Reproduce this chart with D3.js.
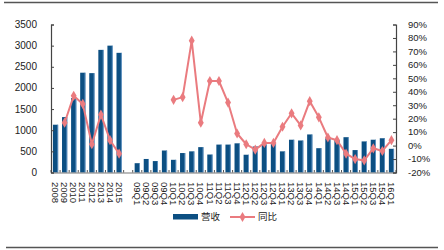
<!DOCTYPE html>
<html>
<head>
<meta charset="utf-8">
<script src="https://cdn.jsdelivr.net/npm/d3@7"></script>
<style>
  html, body { margin: 0; padding: 0; background: #fff; }
  svg { display: block; font-family: "Liberation Sans", Arial, "Noto Sans CJK SC", sans-serif; }
</style>
</head>
<body>
<div id="chart"></div>
<script>
"use strict";

// annual 2008-2015, one empty slot, then quarterly 09Q1-16Q1
const categories = [
  "2008", "2009", "2010", "2011", "2012", "2013", "2014", "2015", "",
  "09Q1", "09Q2", "09Q3", "09Q4",
  "10Q1", "10Q2", "10Q3", "10Q4",
  "11Q1", "11Q2", "11Q3", "11Q4",
  "12Q1", "12Q2", "12Q3", "12Q4",
  "13Q1", "13Q2", "13Q3", "13Q4",
  "14Q1", "14Q2", "14Q3", "14Q4",
  "15Q1", "15Q2", "15Q3", "15Q4",
  "16Q1",
];

const revenue = [
  1130, 1310, 1760, 2360, 2350, 2900, 3000, 2830, null,
  220, 320, 270, 520,
  300, 460, 500, 600,
  425, 660, 660, 690,
  420, 615, 660, 680,
  500, 775, 757, 900,
  575, 810, 770, 835,
  530, 735, 775, 810,
  560,
];

const yoy = [
  null, 17, 37, 31, 1, 23, 4, -6, null,
  null, null, null, null,
  34, 36, 78, 17,
  48, 48, 32, 9,
  1, -3, 2, 2,
  14, 24, 15, 33,
  21, 6, 4, -6,
  -10, -11, -2, -4,
  4,
];

const leftTicks = [0, 500, 1000, 1500, 2000, 2500, 3000, 3500];
const rightTicks = [-20, -10, 0, 10, 20, 30, 40, 50, 60, 70, 80, 90];
const legendLabels = ["营收", "同比"];

(function renderChart() {
  const width = 444;
  const height = 250;
  const barColor = "#0c4f82";
  const barEdge = "#6b9ccc";
  const lineColor = "#ea7b7f";
  const axisColor = "#444";

  const svg = d3.select("#chart")
    .append("svg")
    .attr("width", width)
    .attr("height", height);

  // frame lines top and bottom
  svg.append("line")
    .attr("x1", 4).attr("x2", 438).attr("y1", 2.5).attr("y2", 2.5)
    .attr("stroke", "#555").attr("stroke-width", 1.5);
  svg.append("line")
    .attr("x1", 6).attr("x2", 438).attr("y1", 247.5).attr("y2", 247.5)
    .attr("stroke", "#555").attr("stroke-width", 1.5);

  const x = d3.scaleBand().domain(categories).range([51, 396]).padding(0);
  const yLeft = d3.scaleLinear().domain([0, 3500]).range([172.5, 24.5]);
  const yRight = d3.scaleLinear().domain([-20, 90]).range([172.5, 24.5]);
  const barWidth = 5.2;
  const cx = (d) => x(d) + x.bandwidth() / 2;

  const rows = categories.map((cat, i) => ({ cat, rev: revenue[i], pct: yoy[i] }));

  // bars
  const barRows = rows.filter((row) => row.rev != null);
  svg.selectAll("rect.bar")
    .data(barRows)
    .join("rect")
    .attr("class", "bar")
    .attr("x", (row) => cx(row.cat) - barWidth / 2)
    .attr("y", (row) => yLeft(row.rev))
    .attr("width", barWidth)
    .attr("height", (row) => yLeft(0) - yLeft(row.rev))
    .attr("fill", barColor);

  svg.selectAll("rect.bar-edge")
    .data(barRows)
    .join("rect")
    .attr("class", "bar-edge")
    .attr("x", (row) => cx(row.cat) + barWidth / 2 - 0.8)
    .attr("y", (row) => yLeft(row.rev))
    .attr("width", 0.8)
    .attr("height", (row) => yLeft(0) - yLeft(row.rev))
    .attr("fill", barEdge);

  // x axis
  svg.append("g")
    .attr("transform", `translate(0,${yLeft(0)})`)
    .call(d3.axisBottom(x).tickSize(0).tickFormat(""))
    .call((axis) => axis.select(".domain").attr("stroke", "#777").attr("stroke-width", 1.2));

  svg.selectAll("line.xtick")
    .data(categories.concat(["__end"]))
    .join("line")
    .attr("class", "xtick")
    .attr("x1", (d, i) => 51 + i * x.step())
    .attr("x2", (d, i) => 51 + i * x.step())
    .attr("y1", yLeft(0))
    .attr("y2", yLeft(0) - 2.5)
    .attr("stroke", "#555");

  svg.selectAll("text.xlabel")
    .data(categories.filter((c) => c !== ""))
    .join("text")
    .attr("class", "xlabel")
    .attr("transform", (d) => `translate(${cx(d)},182) rotate(90)`)
    .attr("dy", "0.35em")
    .attr("font-size", 9.5)
    .attr("fill", "#222")
    .text((d) => d);

  // left axis
  svg.append("g")
    .attr("transform", "translate(51,0)")
    .call(d3.axisRight(yLeft).tickValues(leftTicks).tickSize(3).tickFormat(""))
    .call((axis) => axis.selectAll("line").attr("stroke", axisColor))
    .call((axis) => axis.select(".domain").attr("stroke", axisColor).attr("stroke-width", 1.2));

  svg.selectAll("text.yleft")
    .data(leftTicks)
    .join("text")
    .attr("class", "yleft")
    .attr("x", 37)
    .attr("y", (v) => yLeft(v))
    .attr("dy", "0.35em")
    .attr("text-anchor", "end")
    .attr("font-size", 10)
    .attr("fill", "#222")
    .text((v) => v);

  // right axis
  svg.append("g")
    .attr("transform", "translate(396,0)")
    .call(d3.axisLeft(yRight).tickValues(rightTicks).tickSize(3).tickFormat(""))
    .call((axis) => axis.selectAll("line").attr("stroke", axisColor))
    .call((axis) => axis.select(".domain").attr("stroke", axisColor).attr("stroke-width", 1.2));

  svg.selectAll("text.yright")
    .data(rightTicks)
    .join("text")
    .attr("class", "yright")
    .attr("x", 408)
    .attr("y", (v) => yRight(v))
    .attr("dy", "0.35em")
    .attr("font-size", 9.5)
    .attr("fill", "#222")
    .text((v) => `${v}%`);

  // yoy line
  const line = d3.line()
    .defined((row) => row.pct != null)
    .x((row) => cx(row.cat))
    .y((row) => yRight(row.pct));

  svg.append("path")
    .datum(rows)
    .attr("fill", "none")
    .attr("stroke", lineColor)
    .attr("stroke-width", 2)
    .attr("stroke-linejoin", "round")
    .attr("d", line);

  const marker = d3.symbol().type(d3.symbolDiamond).size(30);
  svg.selectAll("path.pt")
    .data(rows.filter((row) => row.pct != null))
    .join("path")
    .attr("class", "pt")
    .attr("transform", (row) => `translate(${cx(row.cat)},${yRight(row.pct)})`)
    .attr("d", marker)
    .attr("fill", lineColor);

  // legend
  const legend = svg.append("g");
  legend.append("rect")
    .attr("x", 173).attr("y", 214).attr("width", 25).attr("height", 5.5)
    .attr("fill", barColor);
  legend.append("text")
    .attr("x", 201).attr("y", 217).attr("dy", "0.35em")
    .attr("font-size", 9.5).attr("fill", "#222")
    .text(legendLabels[0]);
  legend.append("line")
    .attr("x1", 230).attr("x2", 255).attr("y1", 217).attr("y2", 217)
    .attr("stroke", lineColor).attr("stroke-width", 2);
  legend.append("path")
    .attr("transform", "translate(242.5,217)")
    .attr("d", marker)
    .attr("fill", lineColor);
  legend.append("text")
    .attr("x", 258).attr("y", 217).attr("dy", "0.35em")
    .attr("font-size", 9.5).attr("fill", "#222")
    .text(legendLabels[1]);
})();
</script>
</body>
</html>
